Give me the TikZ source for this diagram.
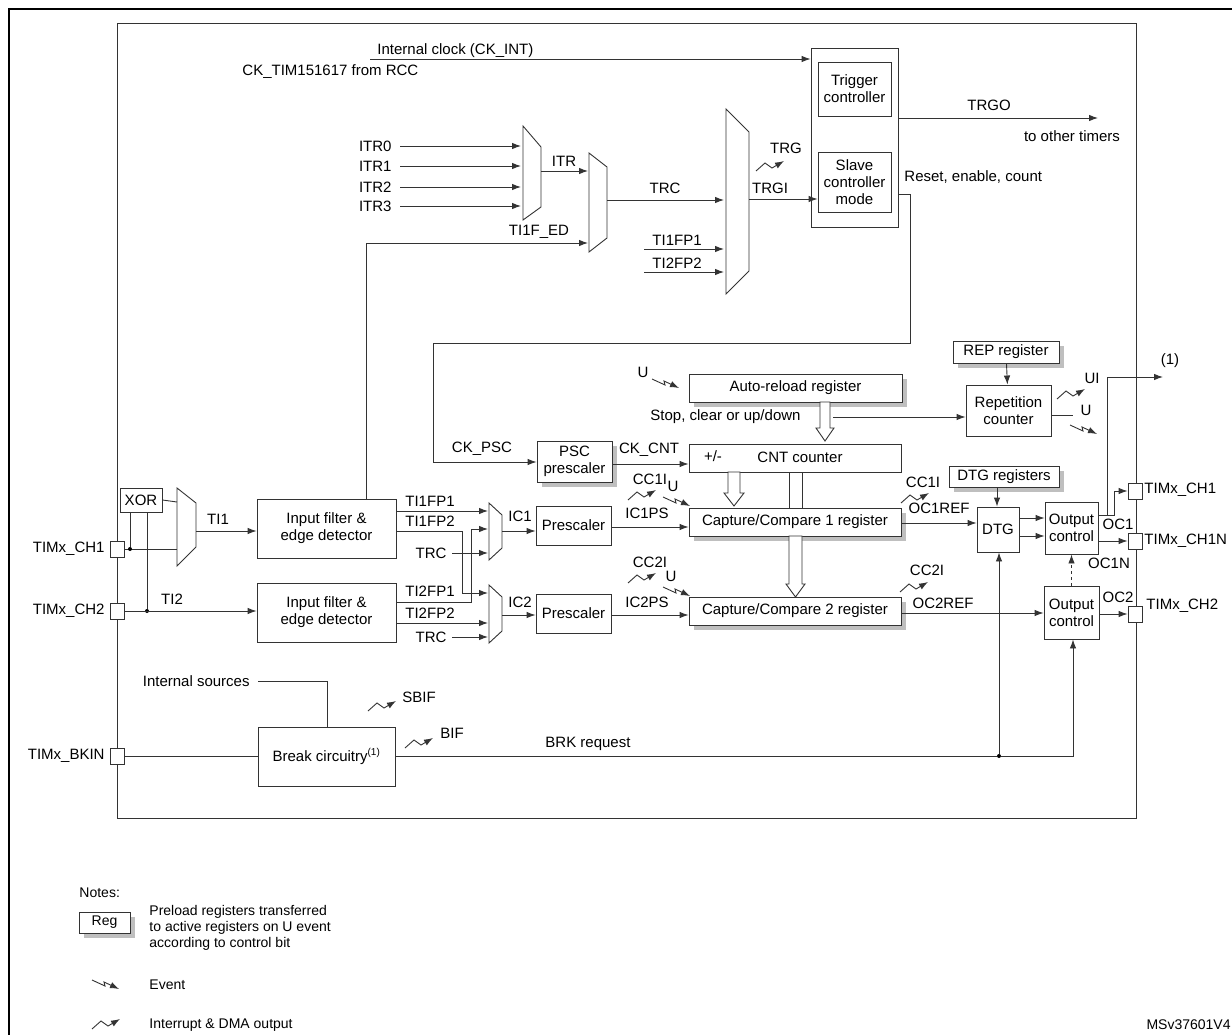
\documentclass[tikz,border=0pt]{standalone}
\usepackage{fontspec}
\setmainfont{Liberation Sans}
\usetikzlibrary{arrows.meta,shadows}
\begin{document}
\begin{tikzpicture}[x=1pt,y=-1pt,
  font=\fontsize{15}{17}\selectfont,
  line width=0.9pt, draw=black!80,
  >={Latex[length=9pt,width=6.5pt]},
  box/.style={draw=black!80,fill=white,align=center,inner sep=0pt},
  reg/.style={box,drop shadow={shadow xshift=5pt,shadow yshift=-5pt,fill=black!25,opacity=1}},
  pad/.style={draw=black!80,fill=white,minimum width=14pt,minimum height=16pt,inner sep=0pt},
  lbl/.style={inner sep=1pt},
  dot/.style={circle,fill=black,inner sep=0pt,minimum size=4pt},
  intr/.pic={\draw[->] (0,0) -- (9,-8) -- (16,-3) -- (28,-10);},
  evt/.pic={\draw[->] (0,0) -- (13,6) -- (12,2) -- (27,9);},
]
\useasboundingbox (0,0) rectangle (1232,1035);
% frames
\draw[line width=2pt,black] (9,1100) -- (9,9) -- (1300,9);
\draw (117,23) rectangle (1136,818);

% controller
\node[box,minimum width=87pt,minimum height=179pt] (ctrl) at (854.5,137.5) {};
\node[box,minimum width=73pt,minimum height=54pt] (trig) at (854.5,89) {Trigger\\controller};
\node[box,minimum width=73pt,minimum height=60pt] (slave) at (854.5,182) {Slave\\controller\\mode};

% muxes
\draw (523,126) -- (541,147) -- (541,207) -- (523,220) -- cycle;
\draw (589,153) -- (607,167) -- (607,238) -- (589,252) -- cycle;
\draw (726,109) -- (749,132) -- (749,271) -- (726,294) -- cycle;
\draw (177,488) -- (196,503) -- (196,547) -- (177,566) -- cycle;
\draw (489,503) -- (502,515) -- (502,548) -- (489,560) -- cycle;
\draw (489,585) -- (502,597) -- (502,631) -- (489,643) -- cycle;

% top signals
\coordinate (ckint) at (370,59);
\draw[->] (ckint) -- (ckint -| ctrl.west);
\node[lbl,anchor=base west] at (376,55) {Internal clock (CK\_INT)};
\node[lbl,anchor=west] at (241,72) {CK\_TIM151617 from RCC};
\foreach \n/\y in {0/146,1/166,2/187,3/206}{
  \node[lbl,anchor=east] (itr\n) at (393,\y) {ITR\n};
  \draw[->] (400,\y) -- (521,\y);
}
\draw[->] (541,171) -- (588,171);
\node[lbl] at (564,161) {ITR};
\draw[->] (366,499) -- (366,243) -- (588,243);
\node[lbl] at (539,232) {TI1F\_ED};
\draw[->] (607,200) -- (724,200);
\node[lbl] at (665,188) {TRC};
\draw[->] (644,249) -- (724,249);
\node[lbl] at (677,240) {TI1FP1};
\draw[->] (644,272) -- (724,272);
\node[lbl] at (677,263) {TI2FP2};
\draw[->] (749,199) -- (slave.west |- 749,199);
\node[lbl] at (770,188) {TRGI};
\node[lbl] at (786,148) {TRG};
\pic at (756,171) {intr};
\draw[->] (ctrl.east |- 0,118) -- (1098,118);
\node[lbl] at (989,105) {TRGO};
\node[lbl] at (1072,136) {to other timers};
\node[lbl,anchor=west] at (903,177) {Reset, enable, count};

% prescaler / counter
\node[reg,minimum width=75pt,minimum height=41pt] (psc) at (574.5,461.5) {PSC\\prescaler};
\node[reg,minimum width=213pt,minimum height=28pt] (arr) at (795.5,388) {Auto-reload register};
\node[box,minimum width=212pt,minimum height=28pt] (cnt) at (795,458) {};
\node[lbl] at (713,456) {+/-};
\node[lbl] at (800,457) {CNT counter};
\draw[->] (ctrl.east |- 0,194) -- (910,194) -- (910,343) -- (433,343) -- (433,462) -- (psc.west |- 0,462);
\node[lbl] at (482,449) {CK\_PSC};
\draw[->] (psc.east |- 0,464) -- (cnt.west |- 0,464);
\node[lbl] at (649,450) {CK\_CNT};
\node[lbl] at (643,372) {U};
\pic at (652,379) {evt};
\node[lbl,anchor=west] at (649,417) {Stop, clear or up/down};

% repetition
\node[reg,minimum width=106pt,minimum height=22pt] (rep) at (1006,352) {REP register};
\node[box,minimum width=85pt,minimum height=51pt] (repc) at (1008.5,410.5) {Repetition\\counter};
\draw[->] (rep) -- (repc);
\draw[->] (833,417) -- (repc.west |- 0,417);
\pic at (1057,399) {intr};
\node[lbl] at (1092,378) {UI};
\draw (repc.east |- 0,415) -- (1073,415);
\node[lbl] at (1086,410) {U};
\pic at (1070,425) {evt};

% input stage
\node[box,minimum width=42pt,minimum height=24pt] (xor) at (141,500) {XOR};
\node[pad] (p1) at (117,549) {};
\node[pad] (p2) at (117,611) {};
\node[pad] (p3) at (117,756) {};
\node[lbl,anchor=east] at (106,549) {TIMx\_CH1};
\node[lbl,anchor=east] at (106,611) {TIMx\_CH2};
\node[lbl,anchor=east] at (106,756) {TIMx\_BKIN};
\node[box,minimum width=139pt,minimum height=59pt] (if1) at (326.5,528.5) {Input filter \&\\edge detector};
\node[box,minimum width=139pt,minimum height=59pt] (if2) at (326.5,612.5) {Input filter \&\\edge detector};
\draw (xor.east) -- (177,502);
\draw (p1.east) -- (177,549);
\node[dot] (d1) at (130,549) {};
\draw (d1) -- (130,512);
\node[dot] (d2) at (147,611) {};
\draw (147,512) -- (d2);
\draw[->] (p2.east) -- (if2.west |- 0,611);
\node[lbl] at (172,599) {TI2};
\draw[->] (196,531) -- (if1.west |- 0,531);
\node[lbl] at (218,519) {TI1};

\draw[->] (396,511) -- (488,511);
\draw[->] (396,531) -- (462,531) -- (462,593) -- (488,593);
\draw[->] (396,602) -- (471,602) -- (471,529) -- (488,529);
\draw[->] (396,623) -- (488,623);
\draw[->] (452,553) -- (488,553);
\draw[->] (452,637) -- (488,637);
\node[lbl] at (430,501) {TI1FP1};
\node[lbl] at (430,521) {TI1FP2};
\node[lbl,anchor=east] at (448,553) {TRC};
\node[lbl] at (430,591) {TI2FP1};
\node[lbl] at (430,613) {TI2FP2};
\node[lbl,anchor=east] at (448,637) {TRC};

\node[box,minimum width=75pt,minimum height=39pt] (pre1) at (573.5,525.5) {Prescaler};
\node[box,minimum width=75pt,minimum height=39pt] (pre2) at (573.5,613.5) {Prescaler};
\draw[->] (502,531) -- (pre1.west |- 0,531);
\node[lbl] at (520,516) {IC1};
\draw[->] (502,615) -- (pre2.west |- 0,615);
\node[lbl] at (520,602) {IC2};

% capture compare
\node[reg,minimum width=212pt,minimum height=28pt] (cc1) at (795,522) {Capture/Compare 1 register};
\node[reg,minimum width=212pt,minimum height=28pt] (cc2) at (795,611) {Capture/Compare 2 register};
\draw[->] (pre1.east |- 0,527) -- (cc1.west |- 0,527);
\node[lbl] at (647,513) {IC1PS};
\draw[->] (pre2.east |- 0,615) -- (cc2.west |- 0,615);
\node[lbl] at (647,602) {IC2PS};
\node[lbl] at (650,479) {CC1I};
\pic at (628,500) {intr};
\node[lbl] at (673,486) {U};
\pic at (663,497) {evt};
\node[lbl] at (650,562) {CC2I};
\pic at (628,583) {intr};
\node[lbl] at (671,576) {U};
\pic at (663,587) {evt};

% hollow arrows
\draw[fill=white] (820,402) -- (830,402) -- (830,428) -- (834,428) -- (825,441) -- (816,428) -- (820,428) -- cycle;
\draw[fill=white] (728,472) -- (740,472) -- (740,493) -- (744,493) -- (734,506) -- (724,493) -- (728,493) -- cycle;
\draw[fill=white] (789,472) -- (802,472) -- (802,508) -- (789,508) -- cycle;
\draw[fill=white] (789,536) -- (802,536) -- (802,584) -- (805,584) -- (795.5,597) -- (786,584) -- (789,584) -- cycle;

% output stage
\node[reg,minimum width=110pt,minimum height=21pt] (dtgr) at (1004,476.5) {DTG registers};
\node[box,minimum width=42pt,minimum height=45pt] (dtg) at (998,529.5) {DTG};
\node[box,minimum width=53pt,minimum height=52pt] (oc1) at (1071.5,528) {Output\\control};
\node[box,minimum width=55pt,minimum height=53pt] (oc2) at (1071.5,612.5) {Output\\control};
\draw[->] (dtgr.south -| 997,0) -- (dtg.north -| 997,0);
\draw[->] (cc1.east |- 0,523) -- (dtg.west |- 0,523);
\node[lbl] at (923,482) {CC1I};
\pic at (901,503) {intr};
\node[lbl] at (939,508) {OC1REF};
\draw[->] (dtg.east |- 0,518) -- (oc1.west |- 0,518);
\draw[->] (dtg.east |- 0,536) -- (oc1.west |- 0,536);
\draw[->] (cc2.east |- 0,613) -- (oc2.west |- 0,613);
\node[lbl] at (927,570) {CC2I};
\pic at (900,592) {intr};
\node[lbl] at (943,603) {OC2REF};

\node[pad] (p4) at (1135,491) {};
\node[pad] (p5) at (1135,541) {};
\node[pad] (p6) at (1135,614) {};
\coordinate (one) at (1163,377);
\draw[->] (oc1.east |- 0,515) -- (1114,515) -- (1114,491) -- (p4.west);
\draw[->] (1107,515) -- (1107,377) -- (one);
\node[lbl] at (1170,361) {(1)};
\draw[->] (oc1.east |- 0,541) -- (p5.west);
\draw[->] (oc2.east |- 0,614) -- (p6.west);
\node[lbl,anchor=west] at (1143,490) {TIMx\_CH1};
\node[lbl,anchor=west] at (1143,541) {TIMx\_CH1N};
\node[lbl,anchor=west] at (1145,606) {TIMx\_CH2};
\node[lbl] at (1118,524) {OC1};
\node[lbl] at (1109,563) {OC1N};
\node[lbl] at (1118,597) {OC2};
\draw[->,dashed] (oc2.north) -- (oc1.south);

% break
\node[box,minimum width=137pt,minimum height=59pt] (brk) at (326.5,756.5) {Break circuitry\textsuperscript{\fontsize{10}{10}\selectfont(1)}};
\draw (p3.east) -- (brk.west |- 0,756);
\node[dot] (d3) at (999,756) {};
\draw (brk.east |- 0,756) -- (d3);
\draw[->] (d3) -- (1073,756) -- (oc2.south -| 1073,0);
\draw[->] (d3) -- (dtg.south -| 999,0);
\node[lbl] at (588,744) {BRK request};
\node[lbl,anchor=east] at (251,681) {Internal sources};
\draw (258,681) -- (327,681) -- (brk.north -| 327,0);
\pic at (368,711) {intr};
\node[lbl,anchor=west] at (401,697) {SBIF};
\pic at (405,748) {intr};
\node[lbl,anchor=west] at (439,733) {BIF};

% notes
\begin{scope}[font=\fontsize{14}{16}\selectfont]
\node[lbl,anchor=west] at (78,893) {Notes:};
\node[reg,minimum width=51pt,minimum height=21pt] (regn) at (104.5,922.5) {Reg};
\node[lbl,anchor=north west,align=left] at (148,904) {Preload registers transferred\\to active registers on U event\\according to control bit};
\pic at (92,980) {evt};
\node[lbl,anchor=west] at (148,985) {Event};
\pic at (92,1029) {intr};
\node[lbl,anchor=west] at (148,1025) {Interrupt \& DMA output};
\node[lbl,anchor=east] at (1232,1025) {MSv37601V4};
\end{scope}
\end{tikzpicture}
\end{document}
